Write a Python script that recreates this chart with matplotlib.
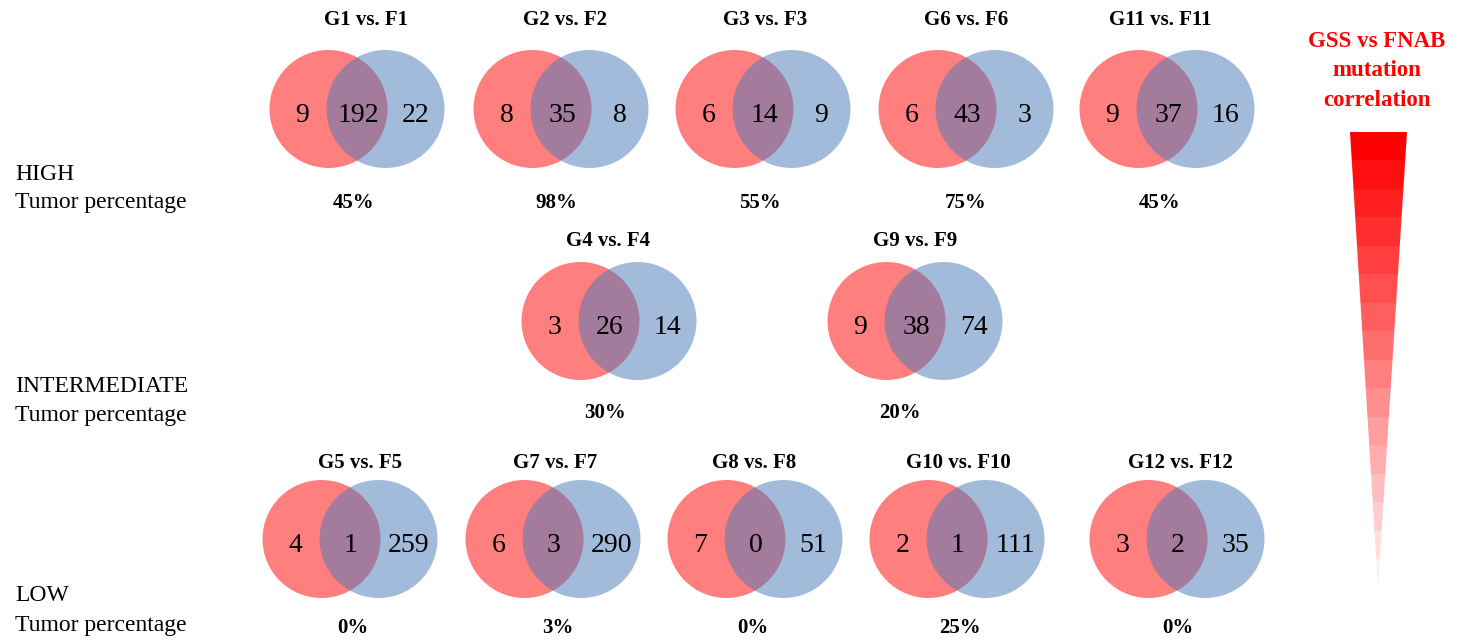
import numpy as np
import matplotlib.pyplot as plt
from matplotlib.patches import Circle, Polygon

plt.rcParams['font.family'] = ['Liberation Serif', 'DejaVu Serif']

# data: (G only, shared, F only) per pair, plus tumor percentage
row1_titles = ["G1 vs. F1", "G2 vs. F2", "G3 vs. F3", "G6 vs. F6", "G11 vs. F11"]
row1_g = [9, 8, 6, 6, 9]
row1_both = [192, 35, 14, 43, 37]
row1_f = [22, 8, 9, 3, 16]
row1_pct = ["45%", "98%", "55%", "75%", "45%"]

row2_titles = ["G4 vs. F4", "G9 vs. F9"]
row2_g = [3, 9]
row2_both = [26, 38]
row2_f = [14, 74]
row2_pct = ["30%", "20%"]

row3_titles = ["G5 vs. F5", "G7 vs. F7", "G8 vs. F8", "G10 vs. F10", "G12 vs. F12"]
row3_g = [4, 6, 7, 2, 3]
row3_both = [1, 3, 0, 1, 2]
row3_f = [259, 290, 51, 111, 35]
row3_pct = ["0%", "3%", "0%", "25%", "0%"]

W, H = 1458, 639
fig = plt.figure(figsize=(W / 100, H / 100), dpi=100)
ax = fig.add_axes([0, 0, 1, 1])

R = 59
D = 57
red = (1.0, 0.0, 0.0)
blue = (73 / 255, 121 / 255, 185 / 255)


def venn(cx, cy, g, both, f, title, tx, ty, pct, px, py):
    ax.add_patch(Circle((cx - D / 2, cy), R, color=red, alpha=0.5, lw=0))
    ax.add_patch(Circle((cx + D / 2, cy), R, color=blue, alpha=0.5, lw=0))
    kw = dict(fontsize=20, ha='center', va='baseline', color='black')
    ax.text(cx - D / 2 - 26, cy + 13, str(g), **kw)
    ax.text(cx + 1, cy + 13, str(both), **kw)
    ax.text(cx + D / 2 + 30, cy + 13, str(f), **kw)
    ax.text(tx, ty, title, fontsize=15, fontweight='bold', ha='center', va='baseline')
    ax.text(px, py, pct, fontsize=15, fontweight='bold', ha='center', va='baseline')


row1_x = [357, 561, 763, 966, 1167]
row1_tx = [366, 565, 765, 966, 1160]
row1_px = [354, 556, 760, 966, 1160]
for i in range(5):
    venn(row1_x[i], 109, row1_g[i], row1_both[i], row1_f[i],
         row1_titles[i], row1_tx[i], 25, row1_pct[i], row1_px[i], 208)

row2_x = [609, 915]
row2_tx = [608, 915]
row2_px = [605, 900]
for i in range(2):
    venn(row2_x[i], 321, row2_g[i], row2_both[i], row2_f[i],
         row2_titles[i], row2_tx[i], 246, row2_pct[i], row2_px[i], 418)

row3_x = [350, 553, 755, 957, 1177]
row3_tx = [360, 555, 754, 958, 1180]
row3_px = [353, 558, 753, 960, 1178]
for i in range(5):
    venn(row3_x[i], 539, row3_g[i], row3_both[i], row3_f[i],
         row3_titles[i], row3_tx[i], 468, row3_pct[i], row3_px[i], 633)

# row labels
lab = dict(fontsize=17, ha='left', va='baseline')
ax.text(15, 180, "HIGH", **lab)
ax.text(15, 208, "Tumor percentage", **lab)
ax.text(15, 392, "INTERMEDIATE", **lab)
ax.text(15, 421, "Tumor percentage", **lab)
ax.text(15, 601, "LOW", **lab)
ax.text(15, 631, "Tumor percentage", **lab)

# right legend title
rt = dict(fontsize=16.5, fontweight='bold', color='red', ha='center', va='baseline')
ax.text(1377, 47, "GSS vs FNAB", **rt)
ax.text(1377, 76, "mutation", **rt)
ax.text(1377, 106, "correlation", **rt)

# gradient wedge
nb = 16
t = np.linspace(0, 1, nb)[:, None]
top = np.array([1.0, 0.0, 0.0])
bot = np.array([1.0, 0.93, 0.94])
grad = (top * (1 - t) + bot * t)[:, None, :]
x0, x1, y0, y1, ax_apex = 1350, 1407, 132, 588, 1378
im = ax.imshow(grad, extent=[x0, x1, y1, y0], aspect='auto', interpolation='nearest', zorder=1)
tri = Polygon([[x0, y0], [x1, y0], [ax_apex, y1]], closed=True, transform=ax.transData)
im.set_clip_path(tri)

ax.set_xlim(0, W)
ax.set_ylim(H, 0)
ax.axis('off')
fig.savefig("out.png", dpi=100, facecolor='white')
